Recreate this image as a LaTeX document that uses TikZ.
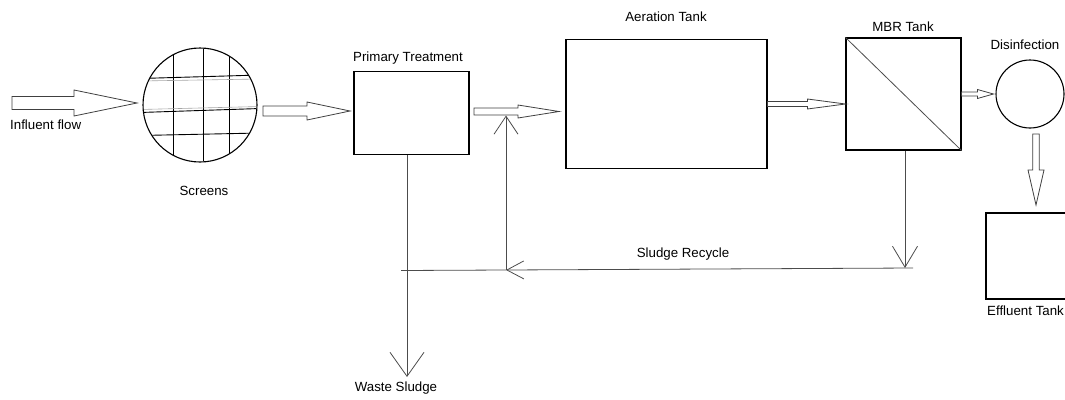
\documentclass[tikz,border=0pt]{standalone}
\usepackage{fontspec}
\setmainfont{Liberation Sans}
\usetikzlibrary{arrows.meta,calc,positioning}

% hollow block arrow: start, tip, shaft half width, head half width, head length
\newcommand{\flowarrow}[5]{%
  \coordinate (fa-base) at ($(#2)!#5!(#1)$);
  \draw[flow] ($(#1)!#3!90:(#2)$) -- ($(fa-base)!#3!90:(#2)$)
    -- ($(fa-base)!#4!90:(#2)$) -- (#2) -- ($(fa-base)!#4!-90:(#2)$)
    -- ($(fa-base)!#3!-90:(#2)$) -- ($(#1)!#3!-90:(#2)$) -- cycle;}

\begin{document}
\begin{tikzpicture}[x=1pt, y=-1pt, line join=miter]
  \tikzstyle{every node} = [font = \fontsize{13.3}{15}\selectfont,
                            inner sep = 0]
  \tikzstyle{tank} = [draw, line width = 1.1pt]
  \tikzstyle{screen} = [draw, circle, line width = 1.1pt]
\tikzset{flow/.style = {draw = black!75, line width = 0.8pt, fill = white},
         pipe/.style = {draw = black!70, line width = 0.8pt},
         mesh/.style = {draw = black, line width = 0.9pt},
         barb/.style args = {#1/#2}{-{Straight Barb[length = #1, width = #2]}}}
\useasboundingbox (0,0) rectangle (1065,399);

\node[screen, minimum size = 114pt] (screens) at (200,105) {};
\node[tank, minimum width = 115pt, minimum height = 83pt] (prim) at (411.5,113) {};
\node[tank, minimum width = 201pt, minimum height = 129pt] (aer) at (666.5,104) {};
\node[tank, minimum width = 115pt, minimum height = 112pt] (mbr) at (903.5,94) {};
\node[screen, minimum size = 68pt] (dis) at (1030,94) {};
\node[tank, minimum width = 90pt, minimum height = 86pt] (eff) at (1031,256) {};

\begin{scope}
  \clip (screens.center) circle (56.5);
  \foreach \gx in {173,203,229}
    \draw[mesh] (\gx,40) -- (\gx,170);
  \draw[mesh] (140,78.5) -- (260,75);
  \draw[mesh] (140,112.5) -- (260,108.5);
  \draw[mesh] (140,135.5) -- (260,133);
  \draw[black!35, line width = 0.6pt] (140,81) -- (260,79);
  \draw[black!35, line width = 0.6pt] (140,109.5) -- (260,106.5);
\end{scope}
\draw[pipe] (mbr.north west) -- (mbr.south east);

\coordinate (inflow) at (12,103);
\coordinate (scr-in) at (137,103);
\coordinate (scr-out) at (263,111);
\coordinate (prim-in) at (350,111);
\coordinate (prim-out) at (474,111.5);
\coordinate (aer-in) at (559,111.5);
\coordinate (mbr-in) at (mbr.west |- aer.east);
\coordinate (dis-in) at ($(dis.west)+(-2,0)$);
\coordinate (dis-out) at (1036,134);
\coordinate (eff-in) at (1036,205);
\flowarrow{inflow}{scr-in}{6.5pt}{13pt}{63pt}
\flowarrow{scr-out}{prim-in}{5pt}{9pt}{43pt}
\flowarrow{prim-out}{aer-in}{3.5pt}{6.5pt}{41pt}
\flowarrow{aer.east}{mbr-in}{2.5pt}{5pt}{38pt}
\flowarrow{mbr.east}{dis-in}{2pt}{4.5pt}{16pt}
\flowarrow{dis-out}{eff-in}{3.2pt}{8pt}{35pt}

\coordinate (waste) at (407,377);
\coordinate (mbr-drop) at (905,268);
\coordinate (rec-end) at (913,268);
\coordinate (rec-join) at (506,270);
\coordinate (rec-start) at (401,270.5);
\coordinate (rec-top) at (506,115.5);
\draw[pipe, barb = 24pt/34pt] (prim.south -| waste) -- (waste);
\draw[pipe, barb = 21pt/25pt] (mbr.south -| mbr-drop) -- (mbr-drop);
\draw[pipe, barb = 17pt/18pt] (rec-end) -- (rec-join);
\draw[pipe] (rec-join) -- (rec-start);
\draw[pipe, barb = 18pt/24pt] (rec-join) -- (rec-top);

\node[anchor = west] (influent-lbl) at (10,125) {Influent flow};
\node (screens-lbl) at (204,191) {Screens};
\node (prim-lbl) at (408,58) {Primary Treatment};
\node (aer-lbl) at (666,17) {Aeration Tank};
\node (mbr-lbl) at (903,27) {MBR Tank};
\node (dis-lbl) at (1025,45) {Disinfection};
\node (rec-lbl) at (683,254) {Sludge Recycle};
\node (waste-lbl) at (396,388) {Waste Sludge};
\node[anchor = west] (eff-lbl) at (987,311) {Effluent Tank};

\end{tikzpicture}
\end{document}
